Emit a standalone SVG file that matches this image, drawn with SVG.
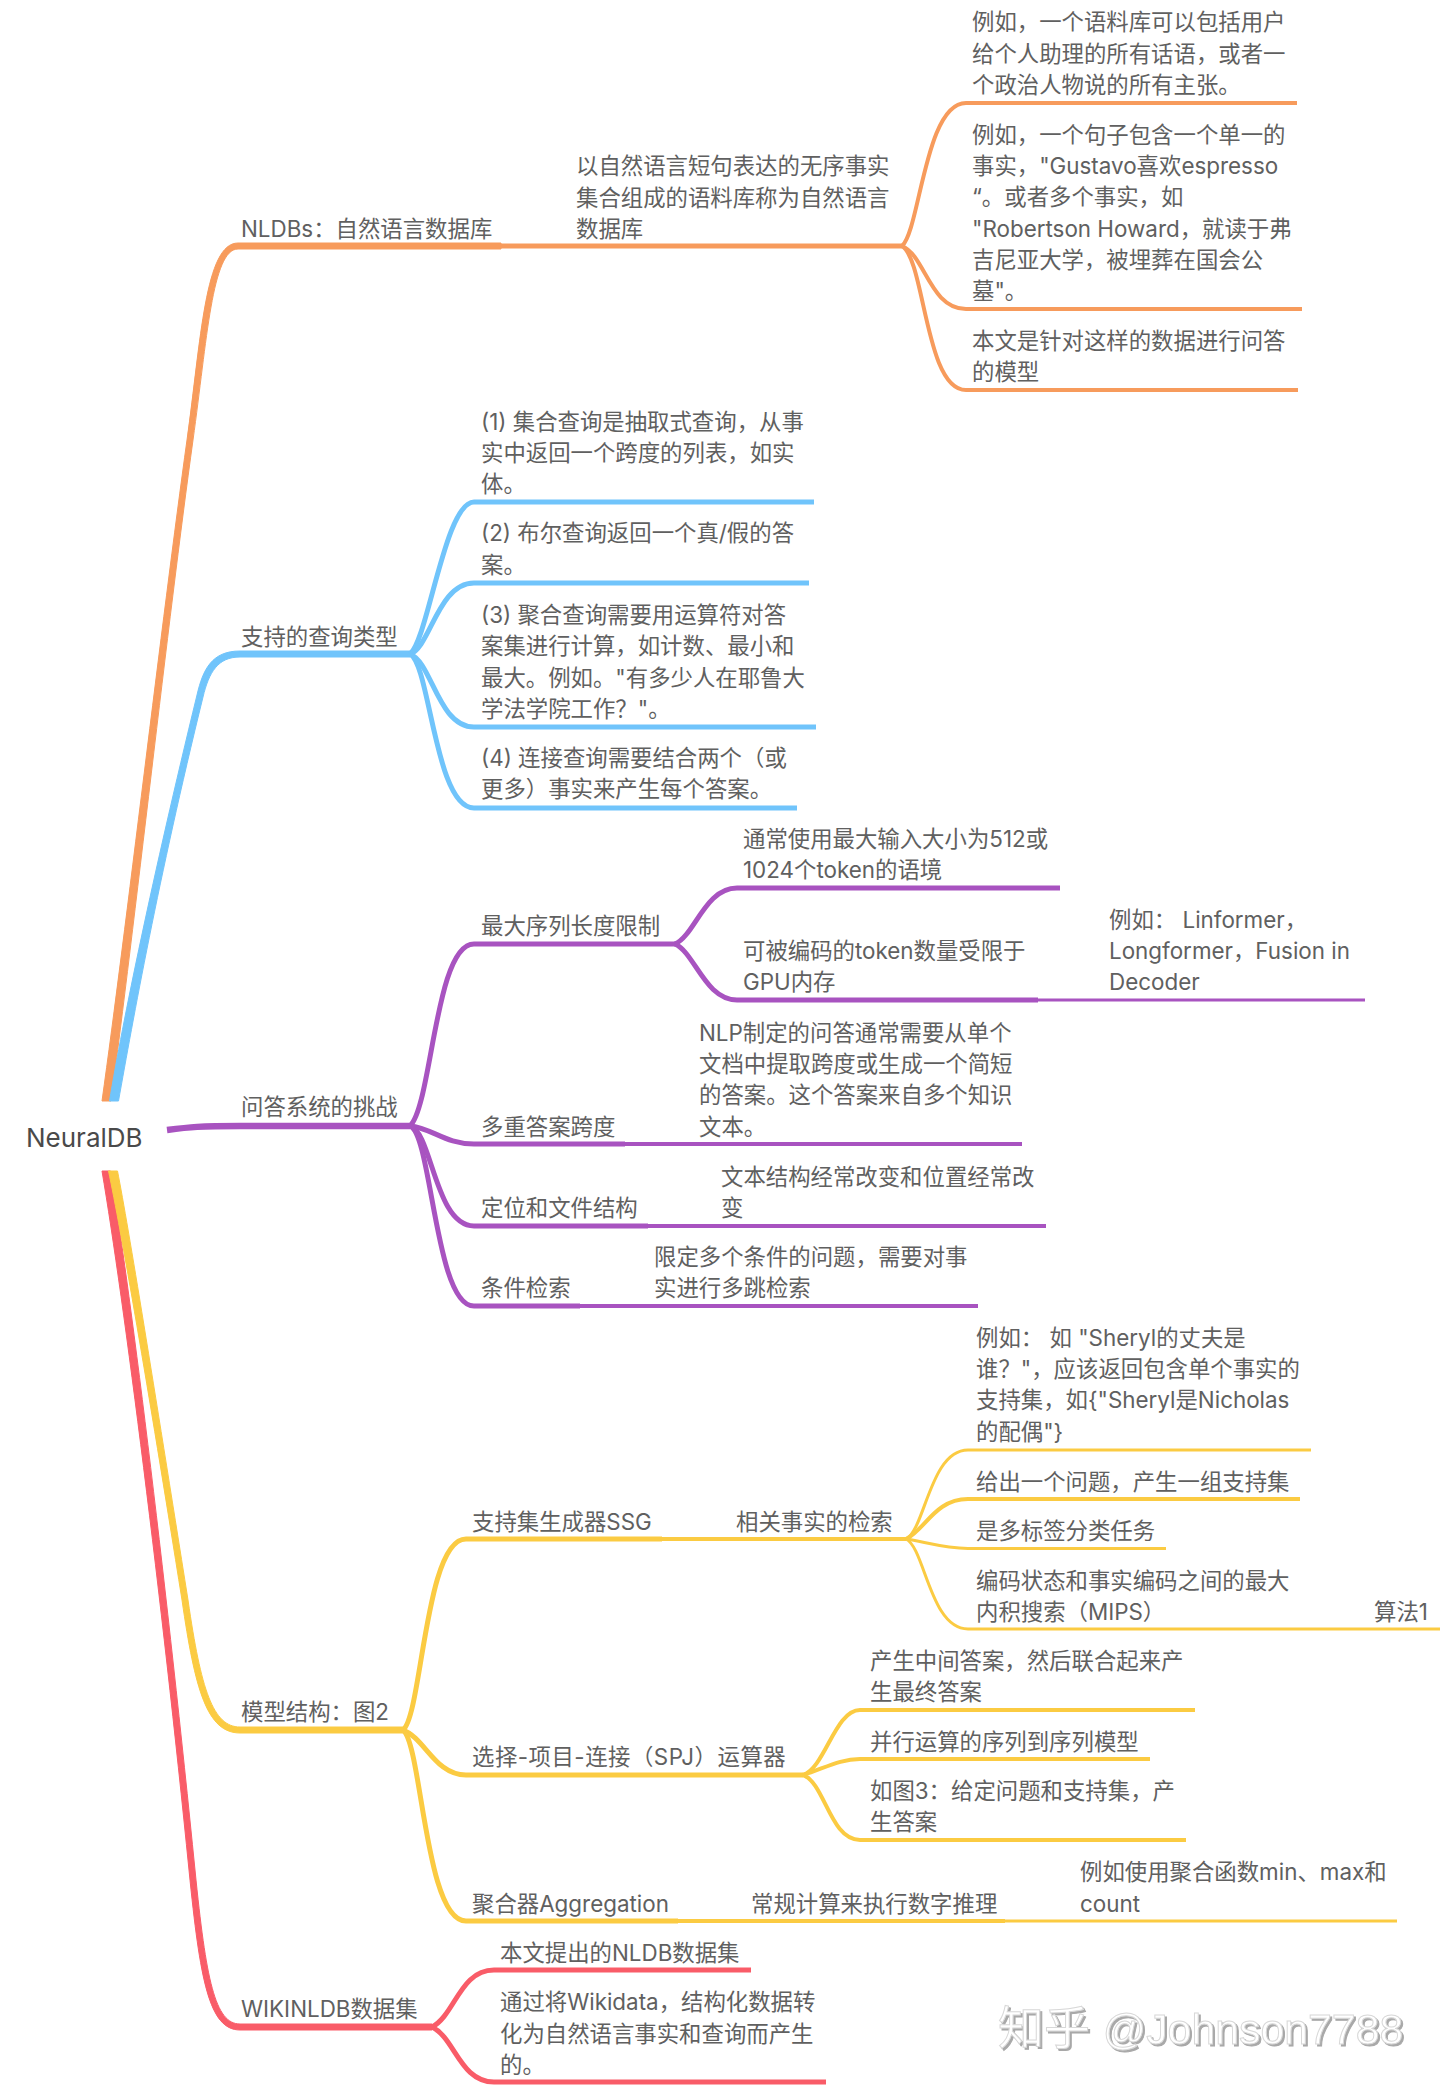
<svg xmlns="http://www.w3.org/2000/svg" width="1440" height="2087" viewBox="0 0 1440 2087">
<style>
text{font-family:"Inter","Noto Sans CJK SC",sans-serif;font-size:22.4px;fill:#606060}
.root{font-size:26px;fill:#4a4a4a}
.wm{font-family:"Liberation Sans","Noto Sans CJK SC",sans-serif;font-size:46px;fill:#fff;stroke:#d8d8d8;stroke-width:1;filter:url(#emboss)}
.wm tspan{font-size:42.800px;font-family:"Liberation Sans",sans-serif;fill:#fff}
path{fill:none;stroke-linecap:butt;stroke-linejoin:round}
.o{stroke:#F79B5C}.b{stroke:#70C4FB}.p{stroke:#A853C0}.y{stroke:#FBCB42}.r{stroke:#F95C68}
.w6{stroke-width:6.5}.w5{stroke-width:5}.w4{stroke-width:4}.w3{stroke-width:3}
path.fo{fill:#F79B5C}path.fb{fill:#70C4FB}path.fy{fill:#FBCB42}path.fr{fill:#F95C68}
</style>
<defs><filter id="emboss" x="-5%" y="-20%" width="110%" height="140%"><feDropShadow dx="2" dy="2" stdDeviation="0.4" flood-color="#a8a8a8"/></filter></defs>
<rect width="1440" height="2087" fill="#fff"/>
<g id="connectors">
<g class="o">
<path class="fo" d="M102 1101C126 930 162 620 187 440C201 340 205 243 238 243L501 243L501 249L238 249C212 249 207 340 193 440C168 620 134 930 111 1101Z"/>
<path class="o w5" d="M501 246L902 246"/>
<path class="o w4" d="M902 246C920 230 925 103 966 103L1297 103"/>
<path class="o w4" d="M902 246C925 255 930 309 966 309L1302 309"/>
<path class="o w4" d="M902 246C925 260 925 390 966 390L1298 390"/>
</g>
<g class="b">
<path class="fb" d="M109.500 1101C123 1020 152 880 197 695C203 669 212 651 240 651L410 651L410 657L240 657C218 657 209 672 203 697C158 880 133 1020 118.500 1101Z"/>
<path class="b w5" d="M410 654C428 640 445 502 474 502L814 502"/>
<path class="b w5" d="M410 654C430 648 438 583 474 583L809 583"/>
<path class="b w5" d="M410 654C432 662 438 727 474 727L816 727"/>
<path class="b w5" d="M410 654C430 664 435 808 474 808L797 808"/>
</g>
<g class="p">
<path class="p w6" d="M167 1130C190 1127 200 1126 240 1126L410 1126"/>
<path class="p w5" d="M410 1126C432 1105 435 944 474 944L675 944"/>
<path class="p w5" d="M675 944C695 935 705 888 737 888L1060 888"/>
<path class="p w5" d="M675 944C695 953 705 1000 737 1000L1038 1000"/>
<path class="p w3" d="M1038 1000L1365 1000"/>
<path class="p w5" d="M410 1126C432 1128 445 1144 474 1144L625 1144"/>
<path class="p w4" d="M625 1144L1022 1144"/>
<path class="p w5" d="M410 1126C432 1132 435 1226 474 1226L648 1226"/>
<path class="p w4" d="M648 1226L1046 1226"/>
<path class="p w5" d="M410 1126C432 1135 435 1306 474 1306L580 1306"/>
<path class="p w4" d="M580 1306L978 1306"/>
</g>
<g class="r">
<path class="fr" d="M102 1171C124 1300 162 1600 189 1870C200 1980 209 2030 240 2030L432 2030L432 2024L240 2024C215 2024 206 1980 195 1870C168 1600 132 1300 110.500 1171Z"/>
<path class="r w5" d="M432 2027C455 2015 460 1970 494 1970L751 1970"/>
<path class="r w5" d="M432 2027C455 2038 460 2082 494 2082L826 2082"/>
</g>
<g class="y">
<path class="fy" d="M108.500 1171C121 1230 147 1380 182 1600C195 1690 207 1733 240 1733L403 1733L403 1727L240 1727C213 1727 201 1690 188 1600C153 1380 129 1230 117.500 1171Z"/>
<path class="y w5" d="M403 1730C422 1715 425 1539 466 1539L662 1539"/>
<path class="y w4" d="M662 1539L906 1539"/>
<path class="y w3" d="M906 1539C925 1530 930 1450 968 1450L1311 1450"/>
<path class="y w4" d="M906 1539C925 1530 935 1499 968 1499L1300 1499"/>
<path class="y w3" d="M906 1539C925 1542 945 1548.500 968 1548.500L1166 1548.500"/>
<path class="y w3" d="M906 1539C925 1548 930 1629 968 1629L1440 1629"/>
<path class="y w5" d="M403 1730C425 1738 435 1775 466 1775L803 1775"/>
<path class="y w4" d="M803 1775C825 1768 835 1710 860 1710L1195 1710"/>
<path class="y w4" d="M803 1775C825 1768 840 1759 860 1759L1150 1759"/>
<path class="y w4" d="M803 1775C825 1783 830 1840 860 1840L1186 1840"/>
<path class="y w5" d="M403 1730C422 1745 425 1921 466 1921L678 1921"/>
<path class="y w4" d="M678 1921L1005 1921"/>
<path class="y w3" d="M1005 1921L1397 1921"/>
</g>
</g>
<g id="nodes" transform="translate(0,1)">
<g id="node-root"><text class="root" x="26" y="1146">NeuralDB</text></g>
<g id="n-nldb"><text x="241" y="236">NLDBs：自然语言数据库</text></g>
<g id="n-nldb-1"><text x="576" y="173">以自然语言短句表达的无序事实</text><text x="576" y="205">集合组成的语料库称为自然语言</text><text x="576" y="236">数据库</text></g>
<g id="n-nldb-1a"><text x="972" y="29">例如，一个语料库可以包括用户</text><text x="972" y="61">给个人助理的所有话语，或者一</text><text x="972" y="92">个政治人物说的所有主张。</text></g>
<g id="n-nldb-1b"><text x="972" y="142">例如，一个句子包含一个单一的</text><text x="972" y="173">事实，"Gustavo喜欢espresso</text><text x="972" y="204">“。或者多个事实，如</text><text x="972" y="236">"Robertson Howard，就读于弗</text><text x="972" y="267">吉尼亚大学，被埋葬在国会公</text><text x="972" y="298">墓"。</text></g>
<g id="n-nldb-1c"><text x="972" y="348">本文是针对这样的数据进行问答</text><text x="972" y="379">的模型</text></g>
<g id="n-query"><text x="241" y="644">支持的查询类型</text></g>
<g id="n-query-1"><text x="481" y="429">(1) 集合查询是抽取式查询，从事</text><text x="481" y="460">实中返回一个跨度的列表，如实</text><text x="481" y="491">体。</text></g>
<g id="n-query-2"><text x="481" y="540">(2) 布尔查询返回一个真/假的答</text><text x="481" y="572">案。</text></g>
<g id="n-query-3"><text x="481" y="622">(3) 聚合查询需要用运算符对答</text><text x="481" y="653">案集进行计算，如计数、最小和</text><text x="481" y="685">最大。例如。"有多少人在耶鲁大</text><text x="481" y="716">学法学院工作？"。</text></g>
<g id="n-query-4"><text x="481" y="765">(4) 连接查询需要结合两个（或</text><text x="481" y="796">更多）事实来产生每个答案。</text></g>
<g id="n-chal"><text x="241" y="1114">问答系统的挑战</text></g>
<g id="n-chal-1"><text x="481" y="933">最大序列长度限制</text></g>
<g id="n-chal-1a"><text x="743" y="846">通常使用最大输入大小为512或</text><text x="743" y="877">1024个token的语境</text></g>
<g id="n-chal-1b"><text x="743" y="958">可被编码的token数量受限于</text><text x="743" y="989">GPU内存</text></g>
<g id="n-chal-1c"><text x="1109" y="927">例如： Linformer，</text><text x="1109" y="958">Longformer，Fusion in</text><text x="1109" y="989">Decoder</text></g>
<g id="n-chal-2"><text x="481" y="1134">多重答案跨度</text></g>
<g id="n-chal-2a"><text x="699" y="1040">NLP制定的问答通常需要从单个</text><text x="699" y="1071">文档中提取跨度或生成一个简短</text><text x="699" y="1102">的答案。这个答案来自多个知识</text><text x="699" y="1134">文本。</text></g>
<g id="n-chal-3"><text x="481" y="1215">定位和文件结构</text></g>
<g id="n-chal-3a"><text x="721" y="1184">文本结构经常改变和位置经常改</text><text x="721" y="1215">变</text></g>
<g id="n-chal-4"><text x="481" y="1295">条件检索</text></g>
<g id="n-chal-4a"><text x="654" y="1264">限定多个条件的问题，需要对事</text><text x="654" y="1295">实进行多跳检索</text></g>
<g id="n-model"><text x="241" y="1719">模型结构：图2</text></g>
<g id="n-ssg"><text x="472" y="1529">支持集生成器SSG</text></g>
<g id="n-ssg-1"><text x="736" y="1529">相关事实的检索</text></g>
<g id="n-ssg-1a"><text x="976" y="1345">例如： 如 "Sheryl的丈夫是</text><text x="976" y="1376">谁？"，应该返回包含单个事实的</text><text x="976" y="1407">支持集，如{"Sheryl是Nicholas</text><text x="976" y="1439">的配偶"}</text></g>
<g id="n-ssg-1b"><text x="976" y="1489">给出一个问题，产生一组支持集</text></g>
<g id="n-ssg-1c"><text x="976" y="1538">是多标签分类任务</text></g>
<g id="n-ssg-1d"><text x="976" y="1588">编码状态和事实编码之间的最大</text><text x="976" y="1619">内积搜索（MIPS）</text></g>
<g id="n-ssg-1e"><text x="1374" y="1619">算法1</text></g>
<g id="n-spj"><text x="472" y="1764" letter-spacing="0.500">选择-项目-连接（SPJ）运算器</text></g>
<g id="n-spj-1"><text x="870" y="1668">产生中间答案，然后联合起来产</text><text x="870" y="1699">生最终答案</text></g>
<g id="n-spj-2"><text x="870" y="1749">并行运算的序列到序列模型</text></g>
<g id="n-spj-3"><text x="870" y="1798">如图3：给定问题和支持集，产</text><text x="870" y="1829">生答案</text></g>
<g id="n-agg"><text x="472" y="1911">聚合器Aggregation</text></g>
<g id="n-agg-1"><text x="751" y="1911">常规计算来执行数字推理</text></g>
<g id="n-agg-2"><text x="1080" y="1879">例如使用聚合函数min、max和</text><text x="1080" y="1911">count</text></g>
<g id="n-wiki"><text x="241" y="2016">WIKINLDB数据集</text></g>
<g id="n-wiki-1"><text x="500" y="1960">本文提出的NLDB数据集</text></g>
<g id="n-wiki-2"><text x="500" y="2009">通过将Wikidata，结构化数据转</text><text x="500" y="2041">化为自然语言事实和查询而产生</text><text x="500" y="2072">的。</text></g>
</g>
<text class="wm" x="998" y="2044">知乎 <tspan>@Johnson7788</tspan></text>
</svg>
